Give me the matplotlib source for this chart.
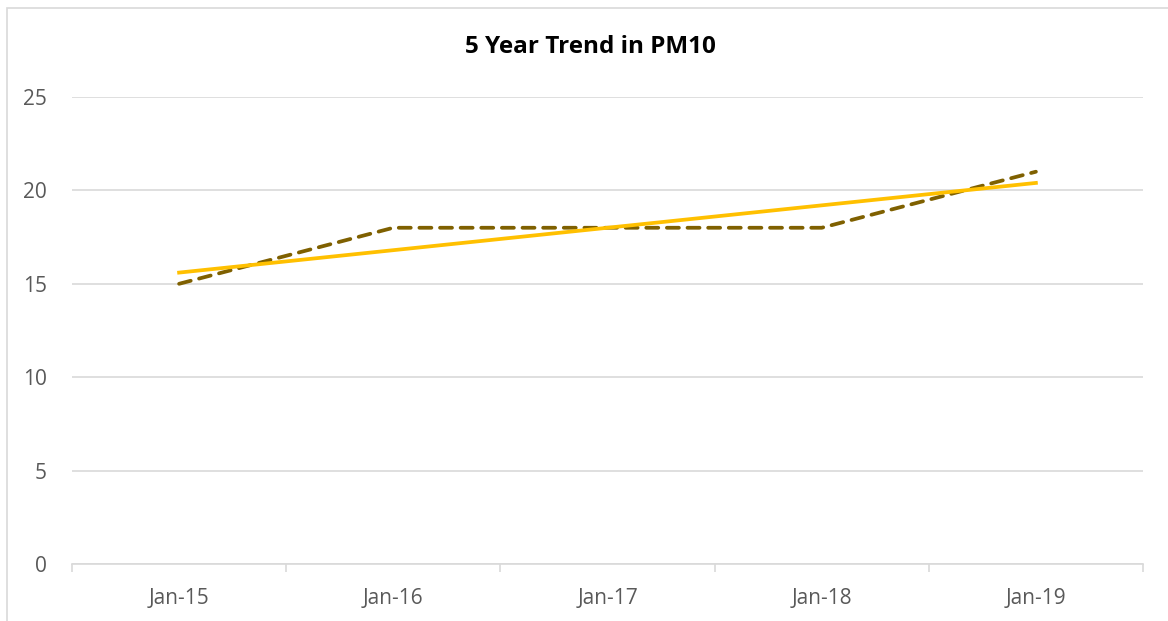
import numpy as np
import matplotlib.pyplot as plt
from matplotlib.patches import Rectangle

# Data
categories = ["Jan-15", "Jan-16", "Jan-17", "Jan-18", "Jan-19"]
pm10 = [15, 18, 18, 18, 21]
trend = [15.6, 16.8, 18.0, 19.2, 20.4]
y_ticks = [0, 5, 10, 15, 20, 25]

plt.rcParams['font.family'] = ['Open Sans', 'DejaVu Sans']

fig = plt.figure(figsize=(11.68, 6.21), dpi=100)
W, H = 1168, 621

# outer chart border (cropped on right/bottom in the reference)
fig.patches.append(Rectangle((7 / W, -0.1), 1.2, 1 - 8 / H + 0.1,
                             transform=fig.transFigure, fill=False,
                             edgecolor='#D9D9D9', linewidth=1.2))

ax = fig.add_axes([72 / W, 1 - 564 / H, (1143 - 72) / W, (564 - 97) / H])

x = np.arange(len(categories))
ax.plot(x, pm10, color='#7F6000', linewidth=2.7, linestyle=(0, (3.2, 2.3)),
        solid_capstyle='round', dash_capstyle='round', zorder=3)
ax.plot(x, trend, color='#FFC000', linewidth=2.7, zorder=4)

ax.set_xlim(-0.5, len(categories) - 0.5)
ax.set_ylim(0, 25)
ax.set_yticks(y_ticks)
ax.yaxis.grid(True, color='#D9D9D9', linewidth=1.2)
ax.set_axisbelow(True)

ax.set_xticks(np.arange(-0.5, len(categories)), labels=[''] * (len(categories) + 1))
ax.set_xticks(x, labels=categories, minor=True)
ax.tick_params(axis='x', which='major', length=6, color='#D9D9D9', width=1.2)
ax.tick_params(axis='x', which='minor', length=0, pad=17, labelsize=15,
               labelcolor='#595959')
ax.tick_params(axis='y', length=0, pad=18, labelsize=15, labelcolor='#595959')

for s in ['top', 'right', 'left']:
    ax.spines[s].set_visible(False)
ax.spines['bottom'].set_color('#D9D9D9')
ax.spines['bottom'].set_linewidth(1.2)

fig.text(590 / W, 1 - 47 / H, "5 Year Trend in PM10", ha='center', va='center',
         fontsize=17.5, fontweight='bold', color='black')

fig.savefig("out.png", dpi=100)
